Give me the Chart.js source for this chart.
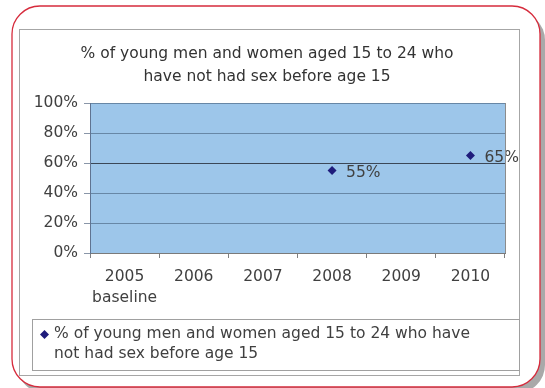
<!DOCTYPE html>
<html lang="en">
  <head>
    <meta charset="UTF-8" />
    <meta name="viewport" content="width=device-width, initial-scale=1.0" />
    <title>Young people who have not had sex before age 15</title>
    <script src="https://cdn.jsdelivr.net/npm/chart.js"></script>
    <style>
      html,
      body {
        margin: 0;
        padding: 0;
        width: 100%;
        height: 100%;
        overflow: hidden;
        background-color: #ffffff;
      }
      canvas#sexChart {
        display: block;
        width: 100% !important;
        height: 100% !important;
      }
    </style>
  </head>
  <body>
    <canvas id="sexChart"></canvas>
    <script>
      // Survey years, with a note printed under the baseline year
      const years = ["2005", "2006", "2007", "2008", "2009", "2010"];
      const yearNotes = ["baseline", "", "", "", "", ""];
      // % who have not had sex before 15 (only measured in some years)
      const notHadSex = [null, null, null, 55, null, 65];
      const yTicks = [0, 20, 40, 60, 80, 100];
      const titleLines = [
        "% of young men and women aged 15 to 24 who",
        "have not had sex before age 15",
      ];
      const seriesLabel =
        "% of young men and women aged 15 to 24 who have not had sex before age 15";

      const FONT = "'DejaVu Sans', Arial, sans-serif";
      const TEXT = "#404040";
      const MARKER = "#1f1c7c";

      Chart.defaults.font.family = FONT;
      Chart.defaults.font.size = 15.5;
      Chart.defaults.color = TEXT;

      // page frame, chart box and plot background
      const framePlugin = {
        id: "frame",
        beforeDraw(chart) {
          const c = chart.ctx;
          const a = chart.chartArea;
          c.save();
          c.fillStyle = "#a9a9a9";
          c.beginPath();
          c.roundRect(17, 12, 528, 381, 28);
          c.fill();
          c.fillStyle = "#ffffff";
          c.beginPath();
          c.roundRect(12, 6, 528, 381, 28);
          c.fill();
          c.strokeStyle = "#d62b3c";
          c.lineWidth = 1.3;
          c.stroke();

          c.strokeStyle = "#a6a6a6";
          c.lineWidth = 1;
          c.strokeRect(19.5, 29.5, 500, 346);

          c.fillStyle = "#9dc6ea";
          c.fillRect(a.left, a.top, a.width, a.height);
          c.restore();
        },
        afterDraw(chart) {
          const c = chart.ctx;
          const a = chart.chartArea;
          c.save();
          c.strokeStyle = "#8c8c8c";
          c.lineWidth = 1;
          c.beginPath();
          c.moveTo(Math.round(a.right) + 0.5, a.top);
          c.lineTo(Math.round(a.right) + 0.5, a.bottom);
          c.stroke();
          c.restore();
        },
      };

      // value labels to the right of each point
      const valueLabels = {
        id: "valueLabels",
        afterDatasetsDraw(chart) {
          const c = chart.ctx;
          const meta = chart.getDatasetMeta(0);
          c.save();
          c.font = "15.5px " + FONT;
          c.fillStyle = TEXT;
          c.textBaseline = "middle";
          meta.data.forEach((pt, i) => {
            const v = notHadSex[i];
            if (v == null) return;
            c.fillText(v + "%", pt.x + 14, pt.y + 2);
          });
          c.restore();
        },
      };

      // boxed legend under the chart, label wrapped onto two lines
      const boxLegend = {
        id: "boxLegend",
        afterDraw(chart) {
          const c = chart.ctx;
          const ds = chart.data.datasets[0];
          c.save();
          c.fillStyle = "#ffffff";
          c.strokeStyle = "#a0a0a0";
          c.lineWidth = 1;
          c.fillRect(32.5, 319.5, 487, 51);
          c.strokeRect(32.5, 319.5, 487, 51);

          c.fillStyle = ds.pointBackgroundColor;
          c.strokeStyle = ds.pointBackgroundColor;
          Chart.helpers.drawPoint(
            c,
            { pointStyle: "rectRot", radius: 4.5, rotation: 0, borderWidth: 0 },
            44.5,
            334.5
          );

          c.font = "15.5px " + FONT;
          c.fillStyle = TEXT;
          c.textBaseline = "middle";
          const words = ds.label.split(" ");
          const lines = [];
          let line = "";
          words.forEach((w) => {
            const test = line ? line + " " + w : w;
            if (c.measureText(test).width > 440 && line) {
              lines.push(line);
              line = w;
            } else {
              line = test;
            }
          });
          lines.push(line);
          lines.forEach((l, i) => c.fillText(l, 54, 333.5 + i * 20));
          c.restore();
        },
      };

      document.addEventListener("DOMContentLoaded", function () {
        const ctx = document.getElementById("sexChart").getContext("2d");
        new Chart(ctx, {
          type: "line",
          data: {
            labels: years,
            datasets: [
              {
                label: seriesLabel,
                data: notHadSex,
                showLine: false,
                pointStyle: "rectRot",
                pointRadius: 4.5,
                pointHoverRadius: 4.5,
                pointBackgroundColor: MARKER,
                pointBorderColor: MARKER,
                pointBorderWidth: 0,
              },
            ],
          },
          options: {
            responsive: true,
            maintainAspectRatio: false,
            animation: false,
            devicePixelRatio: 1,
            layout: {
              padding: { left: 29, right: 40, top: 32, bottom: 75 },
            },
            plugins: {
              legend: { display: false },
              tooltip: { enabled: false },
              title: {
                display: true,
                text: titleLines,
                color: "#333333",
                font: { size: 15.5, weight: "normal", lineHeight: 23 / 15.5 },
                padding: { top: 10.5, bottom: 14.5 },
              },
            },
            scales: {
              x: {
                offset: true,
                grid: {
                  offset: true,
                  drawOnChartArea: false,
                  drawTicks: true,
                  tickLength: 5,
                  color: "#808080",
                },
                border: { color: "#7a7a7a" },
                ticks: {
                  padding: 8,
                  maxRotation: 0,
                  autoSkip: false,
                  font: { size: 15.5, lineHeight: 21 / 15.5 },
                  callback: (v, i) =>
                    yearNotes[i] ? [years[i], yearNotes[i]] : years[i],
                },
                afterFit: (s) => {
                  s.height = 60;
                },
              },
              y: {
                min: 0,
                max: 100,
                afterBuildTicks: (s) => {
                  s.ticks = yTicks.map((v) => ({ value: v }));
                },
                grid: {
                  color: (c) =>
                    c.tick && c.tick.value === 60 ? "#3b4757" : "#6787a6",
                  tickColor: "#8a96a8",
                  tickLength: 6,
                },
                border: { color: "#5f7391" },
                ticks: {
                  padding: 6,
                  callback: (v) => v + "%",
                },
                afterFit: (s) => {
                  s.width = 61;
                },
              },
            },
          },
          plugins: [framePlugin, valueLabels, boxLegend],
        });
      });
    </script>
  </body>
</html>
